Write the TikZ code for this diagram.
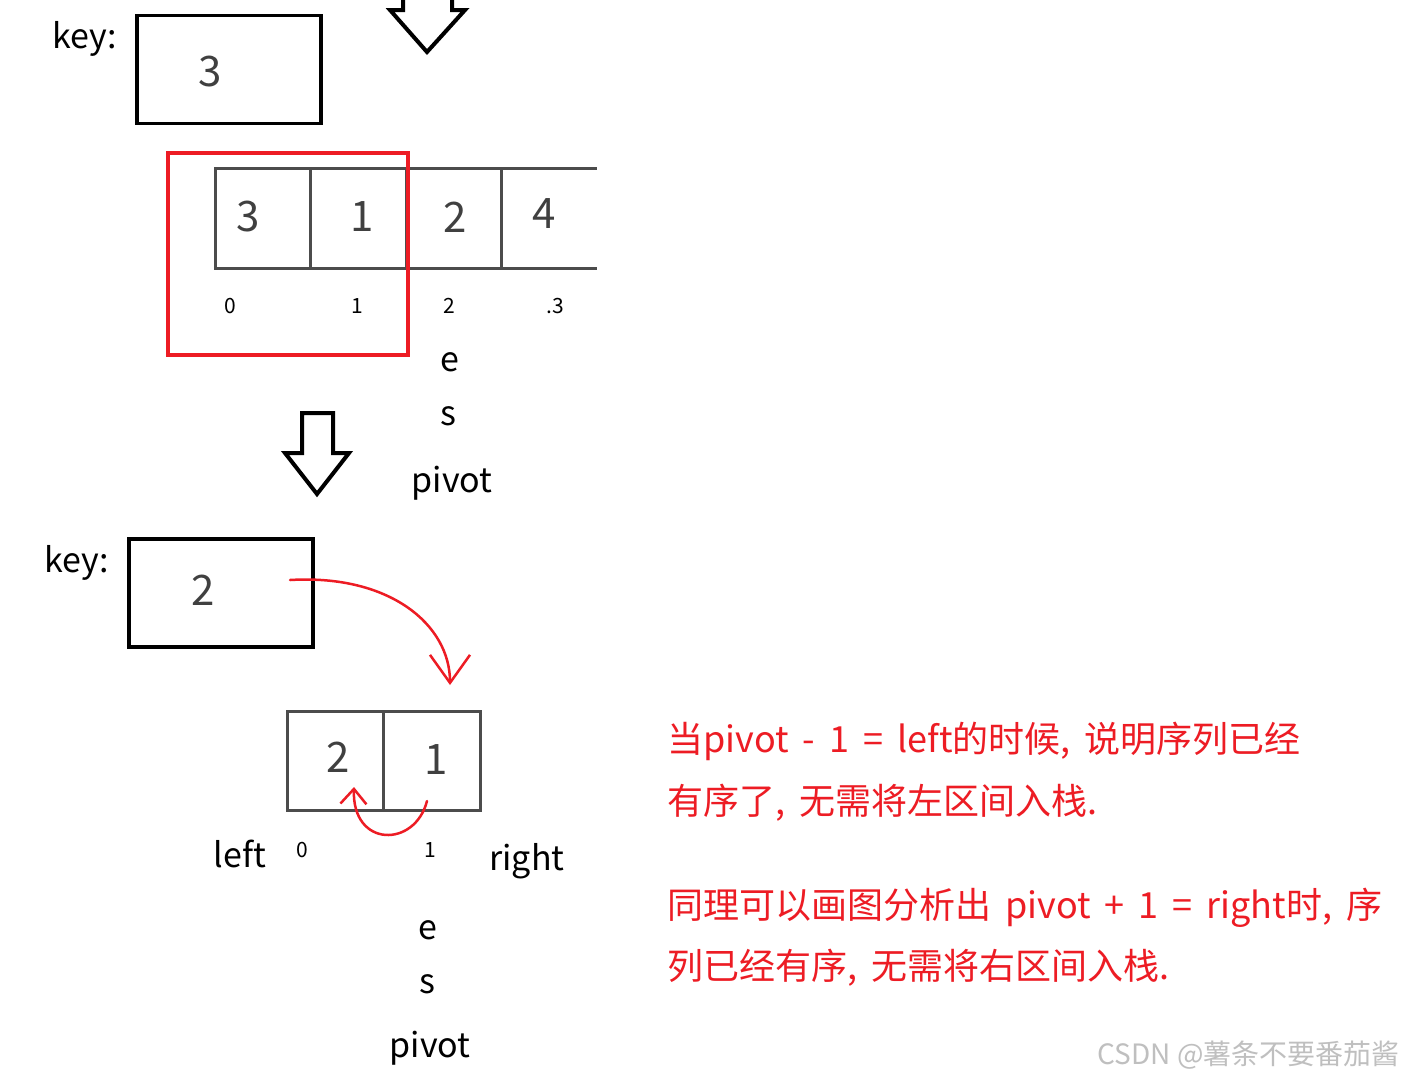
\documentclass[tikz,border=0pt]{standalone}
\usepackage{fontspec}
\usepackage{tikz}
\usetikzlibrary{arrows.meta}
\newfontfamily\cjk{Noto Sans CJK SC}
\definecolor{hlred}{RGB}{237,28,36}
\newcommand{\widespace}{\spaceskip=14pt plus 2pt\relax}

\begin{document}
\begin{tikzpicture}[x=1pt,y=-1pt,
  lbl/.style={font=\cjk\fontsize{34}{40}\selectfont, inner sep=0pt, anchor=base},
  idx/.style={font=\cjk\fontsize{21}{24}\selectfont, inner sep=0pt, anchor=base},
  digit/.style={font=\cjk\fontsize{42}{46}\selectfont, text=black!75},
  cell/.style={minimum width=95pt, minimum height=99pt, inner sep=0pt},
  cellline/.style={draw=black!70, line width=3pt},
  keybox/.style={draw, line width=3.5pt, minimum width=184pt, minimum height=108pt, inner sep=0pt},
  hollow/.style={draw, line width=4pt, line join=miter},
  note/.style={font=\cjk\fontsize{36}{44}\selectfont\widespace, text=hlred, inner sep=0pt, anchor=base west},
  redpen/.style={draw=hlred, line width=2.5pt, line cap=round, line join=round},
]
\useasboundingbox (0,0) rectangle (1405,1080);
\fill[white] (0,0) rectangle (1405,1080);

% first step: key and array
\node[lbl, anchor=base west] (key1) at (52,48) {key:};
\node[keybox] (kbox1) at (229,69.5) {};
\node[digit] (kv1) at (210,72) {3};
\draw[hollow] (403,-10) -- (403,10) -- (390,10) -- (427,52) -- (465,10) -- (452,10) -- (452,-10);

\foreach \v [count=\i from 0] in {3,1,2,4}
  \node[cell] (c\i) at (263+95.3*\i,218.5) {};
\draw[cellline] (c3.north east) -- (c0.north west) -- (c0.south west) -- (c3.south east);
\foreach \i in {0,1,2}
  \draw[cellline] (c\i.north east) -- (c\i.south east);
\node[digit] (v0) at (248,217) {3};
\node[digit] (v1) at (362,217) {1};
\node[digit] (v2) at (455,217) {2};
\node[digit] (v3) at (544,214) {4};

% indices
\node[idx] (i0) at (230,313) {0};
\node[idx] (i1) at (357,313) {1};
\node[idx] (i2) at (449,313) {2};
\node[idx] (i3) at (555,313) {.3};
\node[lbl] (e1) at (450,371) {e};
\node[lbl] (s1) at (448,425) {s};
\node[lbl] (p1) at (452,492) {pivot};

% selected range
\node[draw=hlred, line width=3.5pt, minimum width=240pt, minimum height=202pt, inner sep=0pt] (sel) at (288,254) {};

% step arrow
\draw[hollow] (302,413) -- (333,413) -- (333,453) -- (349,453) -- (317,494) -- (285,453) -- (302,453) -- cycle;

% second step: key and sub array
\node[lbl, anchor=base west] (key2) at (44,572) {key:};
\node[keybox] (kbox2) at (221,593) {};
\node[digit] (kv2) at (203,590) {2};

\node[cell, minimum width=96.5pt, minimum height=98pt] (d0) at (335.5,761) {};
\node[cell, minimum width=96.5pt, minimum height=98pt] (d1) at (432,761) {};
\draw[cellline] (d0.north west) rectangle (d1.south east);
\draw[cellline] (d0.north east) -- (d0.south east);
\node[digit] (w0) at (338,757) {2};
\node[digit] (w1) at (436,760) {1};

\node[lbl] (lft) at (240,867) {left};
\node[idx] (j0) at (302,857) {0};
\node[idx] (j1) at (430,857) {1};
\node[lbl] (rgt) at (527,870) {right};
\node[lbl] (e2) at (428,939) {e};
\node[lbl] (s2) at (427,993) {s};
\node[lbl] (p2) at (430,1057) {pivot};

% red pen strokes
\coordinate (kfrom) at (290,580);
\coordinate (kto) at (450,685);
\draw[redpen, -{Straight Barb[length=28pt,width=40pt]}] (kfrom) .. controls (390,574) and (450,625) .. (kto);
\coordinate (sfrom) at (427,801);
\coordinate (sto) at (354,787);
\draw[redpen, -{Straight Barb[length=15pt,width=26pt]}] (sfrom) .. controls (415,848) and (352,848) .. (sto);

% notes
\node[note] (n1) at (667,752) {当pivot - 1 = left的时候, 说明序列已经};
\node[note] (n2) at (667,814) {有序了, 无需将左区间入栈.};
\node[note] (n3) at (667,918) {同理可以画图分析出 pivot + 1 = right时, 序};
\node[note] (n4) at (667,979) {列已经有序, 无需将右区间入栈.};
\node[font=\cjk\fontsize{28}{32}\selectfont, text=black!25, inner sep=0pt, anchor=base east] (wm) at (1400,1064) {CSDN @薯条不要番茄酱};

\end{tikzpicture}
\end{document}
